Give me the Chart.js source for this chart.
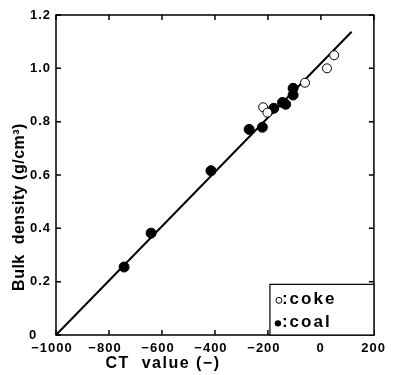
<!DOCTYPE html>
<html>
<head>
<meta charset="utf-8">
<script src="https://cdn.jsdelivr.net/npm/chart.js@4"></script>
<style>
  html, body { margin: 0; padding: 0; background: #fff; }
  #wrap { width: 394px; height: 375px; }
</style>
</head>
<body>
<div id="wrap"><canvas id="chart"></canvas></div>
<script>
// values
const coalX = [-743, -641, -415, -271, -221, -178, -145, -133, -105, -105];
const coalY = [0.255, 0.382, 0.616, 0.771, 0.779, 0.850, 0.872, 0.865, 0.925, 0.900];
const cokeX = [-218, -202, -60, 23, 50];
const cokeY = [0.854, 0.834, 0.946, 1.000, 1.049];
const lineX = [-1000, 116];
const lineY = [0, 1.137];
const xTicks = [-1000, -800, -600, -400, -200, 0, 200];
const yTicks = [0, 0.2, 0.4, 0.6, 0.8, 1.0, 1.2];

const FONT = '"Liberation Sans", Arial, Helvetica, sans-serif';

function pts(xs, ys) {
  return xs.map((x, i) => ({ x: x, y: ys[i] }));
}

// frame, inward ticks, axis titles and the legend box
const decor = {
  id: 'decor',
  beforeDraw(chart) {
    chart.ctx.letterSpacing = '1px';
  },
  afterDraw(chart) {
    const ctx = chart.ctx;
    const a = chart.chartArea;
    const xs = chart.scales.x, ys = chart.scales.y;
    ctx.save();
    ctx.strokeStyle = '#000';
    ctx.lineWidth = 1.5;
    ctx.strokeRect(a.left, a.top, a.right - a.left, a.bottom - a.top);

    const t = 5;
    ctx.beginPath();
    xTicks.forEach(v => {
      const px = xs.getPixelForValue(v);
      ctx.moveTo(px, a.bottom); ctx.lineTo(px, a.bottom - t);
      ctx.moveTo(px, a.top); ctx.lineTo(px, a.top + t);
    });
    yTicks.forEach(v => {
      const py = ys.getPixelForValue(v);
      ctx.moveTo(a.left, py); ctx.lineTo(a.left + t, py);
      ctx.moveTo(a.right, py); ctx.lineTo(a.right - t, py);
    });
    ctx.stroke();

    // axis titles
    ctx.fillStyle = '#000';
    ctx.textAlign = 'center';
    ctx.textBaseline = 'middle';
    ctx.font = 'bold 16px ' + FONT;
    ctx.letterSpacing = '1.5px';
    ctx.fillText('CT  value (\u2212)', 163, 364);
    ctx.letterSpacing = '0.5px';
    ctx.translate(20, 207);
    ctx.rotate(-Math.PI / 2);
    ctx.fillText('Bulk  density (g/cm\u00b3)', 0, 0);
    ctx.setTransform(1, 0, 0, 1, 0, 0);

    // legend box
    const bx = xs.getPixelForValue(-200) + 2;
    const by = ys.getPixelForValue(0.19);
    ctx.lineWidth = 1.2;
    ctx.fillStyle = '#fff';
    ctx.fillRect(bx, by, a.right - bx, a.bottom - by);
    ctx.strokeRect(bx, by, a.right - bx, a.bottom - by);
    ctx.fillStyle = '#000';
    ctx.beginPath();
    ctx.arc(bx + 9, by + 16, 3, 0, Math.PI * 2);
    ctx.lineWidth = 1;
    ctx.stroke();
    ctx.beginPath();
    ctx.arc(bx + 8, by + 39, 3.2, 0, Math.PI * 2);
    ctx.fill();
    ctx.textAlign = 'left';
    ctx.font = 'bold 17px ' + FONT;
    ctx.letterSpacing = '2px';
    ctx.fillText(':coke', bx + 12, by + 15);
    ctx.fillText(':coal', bx + 12, by + 38);
    ctx.restore();
  }
};

new Chart(document.getElementById('chart'), {
  type: 'scatter',
  data: {
    datasets: [
      {
        label: 'fit',
        data: pts(lineX, lineY),
        showLine: true,
        borderColor: '#000',
        borderWidth: 2,
        pointRadius: 0,
        order: 3
      },
      {
        label: 'coal',
        data: pts(coalX, coalY),
        backgroundColor: '#000',
        borderColor: '#000',
        pointRadius: 5,
        order: 2
      },
      {
        label: 'coke',
        data: pts(cokeX, cokeY),
        backgroundColor: '#fff',
        borderColor: '#000',
        borderWidth: 1,
        pointRadius: 4.5,
        order: 1
      }
    ]
  },
  options: {
    responsive: true,
    maintainAspectRatio: false,
    animation: false,
    layout: { padding: { left: 0, right: 19, top: 15, bottom: 0 } },
    plugins: { legend: { display: false }, tooltip: { enabled: false } },
    scales: {
      x: {
        type: 'linear',
        min: -1000,
        max: 200,
        afterBuildTicks: s => { s.ticks = xTicks.map(v => ({ value: v })); },
        afterFit: s => { s.height = 40; },
        grid: { display: false, drawTicks: false },
        border: { display: false },
        ticks: {
          color: '#000',
          padding: 6,
          labelOffset: -4,
          font: { family: FONT, size: 13, weight: 'bold' },
          callback: v => v < 0 ? '\u2212' + Math.abs(v) : '\u2002' + v
        }
      },
      y: {
        type: 'linear',
        min: 0,
        max: 1.2,
        afterBuildTicks: s => { s.ticks = yTicks.map(v => ({ value: v })); },
        afterFit: s => { s.width = 56; },
        grid: { display: false, drawTicks: false },
        border: { display: false },
        ticks: {
          color: '#000',
          padding: 5,
          font: { family: FONT, size: 13, weight: 'bold' },
          callback: v => v === 0 ? '0   ' : v.toFixed(1)
        }
      }
    }
  },
  plugins: [decor]
});
</script>
</body>
</html>
